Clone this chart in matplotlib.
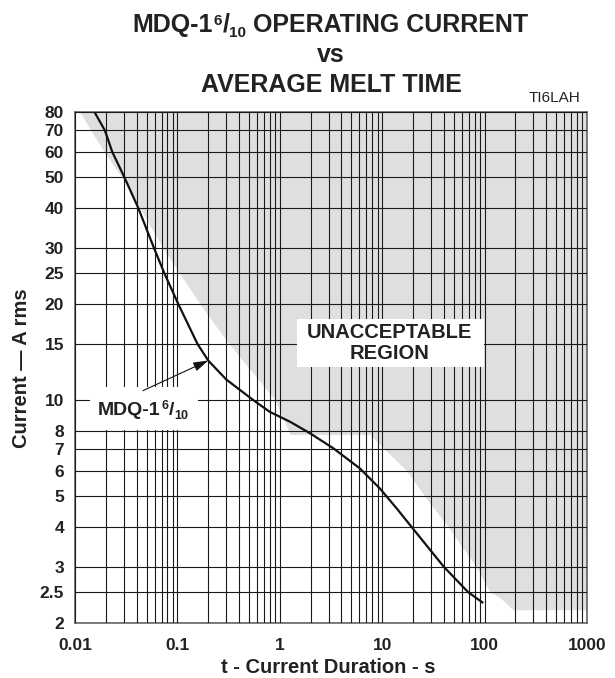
import numpy as np
import matplotlib
matplotlib.use("Agg")
import matplotlib.pyplot as plt
from matplotlib.patches import Rectangle
from matplotlib.ticker import LogLocator, FixedLocator, NullFormatter, NullLocator

plt.rcParams["font.family"] = ["Liberation Sans", "DejaVu Sans"]
plt.rcParams["font.weight"] = "bold"

# ── curve: MDQ-1 6/10 average melt time ──
t_curve = [0.0155, 0.0196, 0.0231, 0.0303, 0.0415, 0.059, 0.0745, 0.102,
           0.157, 0.2, 0.3, 0.55, 0.8, 1.26, 1.97, 3.33, 6.07, 9.5, 13.8,
           20, 40, 69, 97]
i_curve = [80, 70, 60, 50, 40, 30, 25, 20,
           15, 13.3, 11.6, 10, 9.18, 8.55, 7.87, 7.06, 6.1, 5.28, 4.58,
           3.95, 3.0, 2.5, 2.31]

# ── lower edge of the unacceptable (shaded) region ──
t_edge = [0.0112, 0.0143, 0.0193, 0.0286, 0.043, 0.072, 0.166, 0.30, 0.9,
          1.26, 7.6, 10.6, 17.3, 26, 44, 83, 113, 142, 190, 1000]
i_edge = [80, 70, 60, 50, 40, 30, 20, 15.4, 10,
          7.8, 7.8, 7.0, 6.0, 5.0, 4.0, 3.0, 2.5, 2.4, 2.2, 2.2]

y_ticks = [2, 2.5, 3, 4, 5, 6, 7, 8, 10, 15, 20, 25, 30, 40, 50, 60, 70, 80]
y_labels = ["2", "2.5", "3", "4", "5", "6", "7", "8", "10", "15", "20",
            "25", "30", "40", "50", "60", "70", "80"]
x_ticks = [0.01, 0.1, 1, 10, 100, 1000]
x_labels = ["0.01", "0.1", "1", "10", "100", "1000"]

W, H = 615, 678
TXT = "#222"
fig = plt.figure(figsize=(W / 100, H / 100), dpi=100)
ax = fig.add_axes([75 / W, 1 - 623 / H, 512 / W, 511 / H])

ax.set_xscale("log")
ax.set_yscale("log")
ax.set_xlim(0.01, 1000)
ax.set_ylim(2, 80)

# shaded region
ax.fill_between(t_edge, i_edge, 100, color="#dfdfe1", lw=0, zorder=1)
ax.fill_between([0.01, t_edge[0]], [80, 80], 100, color="#dfdfe1", lw=0, zorder=1)

# grid
ax.xaxis.set_major_locator(FixedLocator(x_ticks))
ax.xaxis.set_minor_locator(LogLocator(base=10, subs=np.arange(2, 10)))
ax.xaxis.set_minor_formatter(NullFormatter())
ax.set_xticklabels(x_labels)
ax.yaxis.set_major_locator(FixedLocator(y_ticks))
ax.yaxis.set_minor_locator(NullLocator())
ax.set_yticklabels(y_labels)
ax.grid(True, which="both", axis="x", color="#1a1a1a", lw=0.8, zorder=2)
ax.grid(True, which="major", axis="y", color="#1a1a1a", lw=0.8, zorder=2)
ax.set_axisbelow(False)

ax.tick_params(which="both", length=0, labelsize=12.5)
ax.tick_params(axis="x", pad=11)
ax.tick_params(axis="y", pad=8)
for lab in ax.get_xticklabels() + ax.get_yticklabels():
    lab.set_fontweight("bold")
    lab.set_color(TXT)
for sp in ax.spines.values():
    sp.set_color("#666")
    sp.set_linewidth(1.2)

# curve
ax.plot(t_curve, i_curve, color="#111", lw=1.6, zorder=3, solid_capstyle="butt")


def piece_text(x_px, y_px, pieces):
    """write text pieces one after another on a common baseline (pixels from top-left)"""
    prev = None
    yf = 1 - y_px / H
    for s, size, dy, gap in pieces:
        if prev is None:
            prev = ax.annotate(s, xy=(x_px / W, yf), xycoords="figure fraction",
                               xytext=(0, dy), textcoords="offset points",
                               ha="left", va="baseline", fontsize=size,
                               fontweight="bold", color=TXT, zorder=6,
                               annotation_clip=False)
        else:
            prev = ax.annotate(s, xy=(1, yf), xycoords=(prev, "figure fraction"),
                               xytext=(gap, dy), textcoords="offset points",
                               ha="left", va="baseline", fontsize=size,
                               fontweight="bold", color=TXT, zorder=6,
                               annotation_clip=False)
    return prev


# white boxes behind the in-plot labels
ax.add_patch(Rectangle((0.4336, 0.501), 0.365, 0.094, transform=ax.transAxes,
                       fc="white", ec="none", zorder=4))
ax.add_patch(Rectangle((0.0293, 0.3777), 0.211, 0.0841, transform=ax.transAxes,
                       fc="white", ec="none", zorder=4))

ax.text(11.9, 15.1, "UNACCEPTABLE\nREGION", ha="center", va="center",
        fontsize=14.5, fontweight="bold", color=TXT, linespacing=1.1, zorder=5)

piece_text(98, 415, [("MDQ-1", 14, 0, 0),
                     ("6", 9, 4.2, 0.6),
                     ("/", 14, 0, 0.4),
                     ("10", 9, -2.6, -0.2)])

ax.annotate("", xy=(0.2, 13.3), xytext=(0.0461, 10.7),
            arrowprops=dict(arrowstyle="-|>,head_length=0.9,head_width=0.28",
                            color="#111", lw=0.8, shrinkA=0, shrinkB=0),
            zorder=5)

# titles
piece_text(132, 32, [("MDQ-1", 18, 0, 0),
                     ("6", 11, 5.2, 0.8),
                     ("/", 18, 0, 0.5),
                     ("10", 11, -3.4, -0.3),
                     (" OPERATING CURRENT", 18, 0, 0)])
fig.text(331 / W, 1 - 62 / H, "vs", ha="center", va="baseline",
         fontsize=18, fontweight="bold", color=TXT)
fig.text(331 / W, 1 - 92 / H, "AVERAGE MELT TIME", ha="center", va="baseline",
         fontsize=18, fontweight="bold", color=TXT)
fig.text(580 / W, 1 - 102 / H, "TI6LAH", ha="right", va="baseline",
         fontsize=11, fontweight="normal", color=TXT)

# axis labels
fig.text(328 / W, 1 - 673 / H, "t - Current Duration - s", ha="center",
         va="baseline", fontsize=14.5, fontweight="bold", color=TXT)
fig.text(22 / W, 1 - 368 / H, "Current — A rms", ha="center", va="center",
         rotation=90, fontsize=14.5, fontweight="bold", color=TXT)

fig.savefig("out.png", dpi=100, facecolor="white")
